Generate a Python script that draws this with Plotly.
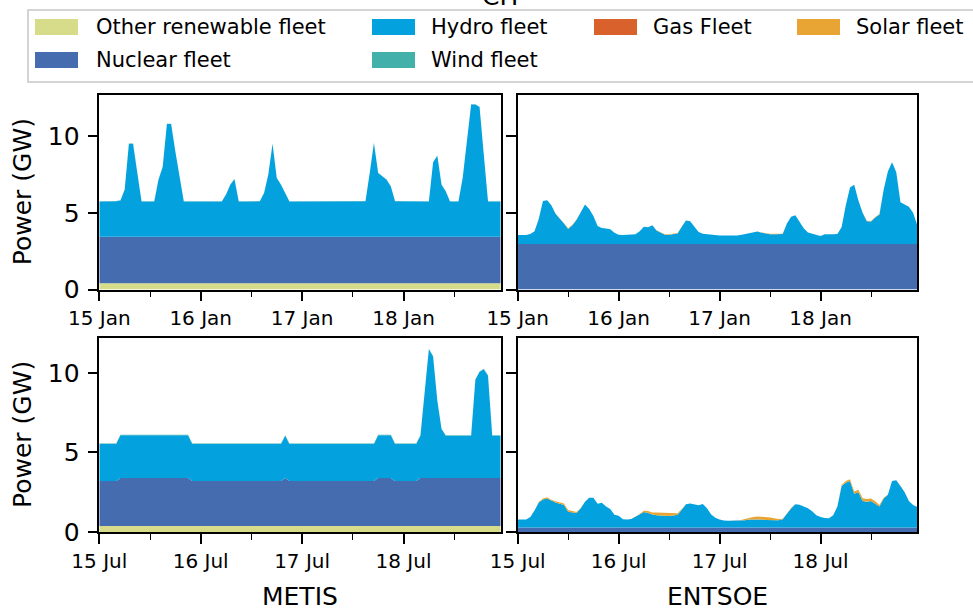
import plotly.graph_objects as go
import pandas as pd

W, H = 973, 613

# ---------------- data (GW, hourly) ----------------
TIME_JAN = pd.date_range("2015-01-15 00:00", periods=96, freq="h")
TIME_JUL = pd.date_range("2015-07-15 00:00", periods=96, freq="h")

TECHS = ["Other renewable fleet", "Nuclear fleet", "Hydro fleet", "Wind fleet", "Gas Fleet", "Solar fleet"]
COLORS = {"Other renewable fleet": "#d6dc8a", "Nuclear fleet": "#466cb0", "Hydro fleet": "#03a2df",
          "Wind fleet": "#43b0a9", "Gas Fleet": "#d9622c", "Solar fleet": "#e8a534"}

ZERO = [0.0, 0.0, 0.0, 0.0, 0.0, 0.0, 0.0, 0.0, 0.0, 0.0,
        0.0, 0.0, 0.0, 0.0, 0.0, 0.0, 0.0, 0.0, 0.0, 0.0,
        0.0, 0.0, 0.0, 0.0, 0.0, 0.0, 0.0, 0.0, 0.0, 0.0,
        0.0, 0.0, 0.0, 0.0, 0.0, 0.0, 0.0, 0.0, 0.0, 0.0,
        0.0, 0.0, 0.0, 0.0, 0.0, 0.0, 0.0, 0.0, 0.0, 0.0,
        0.0, 0.0, 0.0, 0.0, 0.0, 0.0, 0.0, 0.0, 0.0, 0.0,
        0.0, 0.0, 0.0, 0.0, 0.0, 0.0, 0.0, 0.0, 0.0, 0.0,
        0.0, 0.0, 0.0, 0.0, 0.0, 0.0, 0.0, 0.0, 0.0, 0.0,
        0.0, 0.0, 0.0, 0.0, 0.0, 0.0, 0.0, 0.0, 0.0, 0.0,
        0.0, 0.0, 0.0, 0.0, 0.0, 0.0]

# METIS, January
OTHER_METIS_JAN = [0.40, 0.40, 0.40, 0.40, 0.40, 0.40, 0.40, 0.40, 0.40, 0.40,
                   0.40, 0.40, 0.40, 0.40, 0.40, 0.40, 0.40, 0.40, 0.40, 0.40,
                   0.40, 0.40, 0.40, 0.40, 0.40, 0.40, 0.40, 0.40, 0.40, 0.40,
                   0.40, 0.40, 0.40, 0.40, 0.40, 0.40, 0.40, 0.40, 0.40, 0.40,
                   0.40, 0.40, 0.40, 0.40, 0.40, 0.40, 0.40, 0.40, 0.40, 0.40,
                   0.40, 0.40, 0.40, 0.40, 0.40, 0.40, 0.40, 0.40, 0.40, 0.40,
                   0.40, 0.40, 0.40, 0.40, 0.40, 0.40, 0.40, 0.40, 0.40, 0.40,
                   0.40, 0.40, 0.40, 0.40, 0.40, 0.40, 0.40, 0.40, 0.40, 0.40,
                   0.40, 0.40, 0.40, 0.40, 0.40, 0.40, 0.40, 0.40, 0.40, 0.40,
                   0.40, 0.40, 0.40, 0.40, 0.40, 0.40]
NUCLEAR_METIS_JAN = [3.04, 3.04, 3.04, 3.04, 3.04, 3.04, 3.04, 3.04, 3.04, 3.04,
                     3.04, 3.04, 3.04, 3.04, 3.04, 3.04, 3.04, 3.04, 3.04, 3.04,
                     3.04, 3.04, 3.04, 3.04, 3.04, 3.04, 3.04, 3.04, 3.04, 3.04,
                     3.04, 3.04, 3.04, 3.04, 3.04, 3.04, 3.04, 3.04, 3.04, 3.04,
                     3.04, 3.04, 3.04, 3.04, 3.04, 3.04, 3.04, 3.04, 3.04, 3.04,
                     3.04, 3.04, 3.04, 3.04, 3.04, 3.04, 3.04, 3.04, 3.04, 3.04,
                     3.04, 3.04, 3.04, 3.04, 3.04, 3.04, 3.04, 3.04, 3.04, 3.04,
                     3.04, 3.04, 3.04, 3.04, 3.04, 3.04, 3.04, 3.04, 3.04, 3.04,
                     3.04, 3.04, 3.04, 3.04, 3.04, 3.04, 3.04, 3.04, 3.04, 3.04,
                     3.04, 3.04, 3.04, 3.04, 3.04, 3.04]
HYDRO_METIS_JAN = [2.30, 2.30, 2.30, 2.30, 2.31, 2.36, 3.06, 6.06, 6.06, 4.16,
                   2.30, 2.30, 2.30, 2.30, 3.72, 4.56, 7.36, 7.36, 5.56, 3.86,
                   2.30, 2.30, 2.31, 2.32, 2.31, 2.30, 2.30, 2.30, 2.30, 2.30,
                   2.76, 3.39, 3.76, 2.30, 2.30, 2.31, 2.31, 2.31, 2.31, 2.86,
                   4.06, 6.06, 3.83, 3.39, 2.86, 2.30, 2.30, 2.30, 2.30, 2.30,
                   2.30, 2.30, 2.30, 2.30, 2.30, 2.30, 2.30, 2.30, 2.31, 2.32,
                   2.32, 2.32, 2.32, 2.32, 4.16, 6.12, 4.16, 3.96, 3.72, 3.28,
                   2.32, 2.32, 2.32, 2.31, 2.31, 2.30, 2.30, 2.30, 2.30, 4.86,
                   5.29, 3.39, 2.96, 2.30, 2.30, 2.30, 3.83, 6.26, 8.63, 8.63,
                   8.46, 5.36, 2.30, 2.30, 2.30, 2.30]
WIND_METIS_JAN = [0.02, 0.02, 0.02, 0.02, 0.02, 0.02, 0.02, 0.02, 0.02, 0.02,
                  0.02, 0.02, 0.02, 0.02, 0.02, 0.02, 0.02, 0.02, 0.02, 0.02,
                  0.02, 0.02, 0.02, 0.02, 0.02, 0.02, 0.02, 0.02, 0.02, 0.02,
                  0.02, 0.02, 0.02, 0.02, 0.02, 0.02, 0.02, 0.02, 0.02, 0.02,
                  0.02, 0.02, 0.02, 0.02, 0.02, 0.02, 0.02, 0.02, 0.02, 0.02,
                  0.02, 0.02, 0.02, 0.02, 0.02, 0.02, 0.02, 0.02, 0.02, 0.02,
                  0.02, 0.02, 0.02, 0.02, 0.02, 0.02, 0.02, 0.02, 0.02, 0.02,
                  0.02, 0.02, 0.02, 0.02, 0.02, 0.02, 0.02, 0.02, 0.02, 0.02,
                  0.02, 0.02, 0.02, 0.02, 0.02, 0.02, 0.02, 0.02, 0.02, 0.02,
                  0.02, 0.02, 0.02, 0.02, 0.02, 0.02]

# ENTSOE, January
NUCLEAR_ENTSOE_JAN = [2.97, 2.97, 2.97, 2.97, 2.97, 2.97, 2.97, 2.97, 2.97, 2.97,
                      2.97, 2.97, 2.97, 2.97, 2.97, 2.97, 2.97, 2.97, 2.97, 2.97,
                      2.97, 2.97, 2.97, 2.97, 2.97, 2.97, 2.97, 2.97, 2.97, 2.97,
                      2.97, 2.97, 2.97, 2.97, 2.97, 2.97, 2.97, 2.97, 2.97, 2.97,
                      2.97, 2.97, 2.97, 2.97, 2.97, 2.97, 2.97, 2.97, 2.97, 2.97,
                      2.97, 2.97, 2.97, 2.97, 2.97, 2.97, 2.97, 2.97, 2.97, 2.97,
                      2.97, 2.97, 2.97, 2.97, 2.97, 2.97, 2.97, 2.97, 2.97, 2.97,
                      2.97, 2.97, 2.97, 2.97, 2.97, 2.97, 2.97, 2.97, 2.97, 2.97,
                      2.97, 2.97, 2.97, 2.97, 2.97, 2.97, 2.97, 2.97, 2.97, 2.97,
                      2.97, 2.97, 2.97, 2.97, 2.97, 2.97]
HYDRO_ENTSOE_JAN = [0.59, 0.59, 0.59, 0.65, 0.83, 1.63, 2.81, 2.85, 2.53, 1.98,
                    1.68, 1.33, 0.98, 1.23, 1.58, 2.13, 2.58, 2.28, 1.83, 1.18,
                    1.05, 1.01, 0.96, 0.73, 0.60, 0.59, 0.60, 0.60, 0.63, 0.83,
                    1.13, 1.09, 1.23, 0.88, 0.77, 0.61, 0.60, 0.63, 0.69, 1.13,
                    1.53, 1.48, 1.13, 0.78, 0.67, 0.63, 0.59, 0.56, 0.55, 0.56,
                    0.55, 0.55, 0.55, 0.58, 0.63, 0.70, 0.77, 0.81, 0.73, 0.66,
                    0.63, 0.63, 0.63, 0.65, 1.33, 1.78, 1.88, 1.43, 1.03, 0.75,
                    0.66, 0.58, 0.52, 0.63, 0.61, 0.63, 0.65, 1.09, 2.53, 3.68,
                    3.86, 2.83, 2.03, 1.48, 1.46, 1.73, 1.93, 3.53, 4.73, 5.33,
                    4.68, 2.73, 2.58, 2.43, 2.03, 1.23]
SOLAR_ENTSOE_JAN = [0.0, 0.0, 0.0, 0.0, 0.0, 0.0, 0.0, 0.0, 0.0, 0.01,
                    0.02, 0.03, 0.04, 0.03, 0.02, 0.01, 0.0, 0.0, 0.0, 0.0,
                    0.0, 0.0, 0.0, 0.0, 0.0, 0.0, 0.0, 0.0, 0.0, 0.0,
                    0.0, 0.0, 0.0, 0.01, 0.02, 0.03, 0.04, 0.03, 0.02, 0.01,
                    0.0, 0.0, 0.0, 0.0, 0.0, 0.0, 0.0, 0.0, 0.0, 0.0,
                    0.0, 0.0, 0.0, 0.0, 0.0, 0.0, 0.0, 0.01, 0.02, 0.03,
                    0.04, 0.03, 0.02, 0.01, 0.0, 0.0, 0.0, 0.0, 0.0, 0.0,
                    0.0, 0.0, 0.0, 0.0, 0.0, 0.0, 0.0, 0.0, 0.0, 0.0,
                    0.0, 0.01, 0.02, 0.03, 0.04, 0.03, 0.02, 0.01, 0.0, 0.0,
                    0.0, 0.0, 0.0, 0.0, 0.0, 0.0]

# METIS, July
OTHER_METIS_JUL = [0.38, 0.38, 0.38, 0.38, 0.38, 0.38, 0.38, 0.38, 0.38, 0.38,
                   0.38, 0.38, 0.38, 0.38, 0.38, 0.38, 0.38, 0.38, 0.38, 0.38,
                   0.38, 0.38, 0.38, 0.38, 0.38, 0.38, 0.38, 0.38, 0.38, 0.38,
                   0.38, 0.38, 0.38, 0.38, 0.38, 0.38, 0.38, 0.38, 0.38, 0.38,
                   0.38, 0.38, 0.38, 0.38, 0.38, 0.38, 0.38, 0.38, 0.38, 0.38,
                   0.38, 0.38, 0.38, 0.38, 0.38, 0.38, 0.38, 0.38, 0.38, 0.38,
                   0.38, 0.38, 0.38, 0.38, 0.38, 0.38, 0.38, 0.38, 0.38, 0.38,
                   0.38, 0.38, 0.38, 0.38, 0.38, 0.38, 0.38, 0.38, 0.38, 0.38,
                   0.38, 0.38, 0.38, 0.38, 0.38, 0.38, 0.38, 0.38, 0.38, 0.38,
                   0.38, 0.38, 0.38, 0.38, 0.38, 0.38]
NUCLEAR_METIS_JUL = [2.83, 2.83, 2.83, 2.83, 2.83, 3.02, 3.02, 3.02, 3.02, 3.02,
                     3.02, 3.02, 3.02, 3.02, 3.02, 3.02, 3.02, 3.02, 3.02, 3.02,
                     3.02, 3.02, 2.83, 2.83, 2.83, 2.83, 2.83, 2.83, 2.83, 2.83,
                     2.83, 2.83, 2.83, 2.83, 2.83, 2.83, 2.83, 2.83, 2.83, 2.83,
                     2.83, 2.83, 2.83, 2.83, 3.02, 2.83, 2.83, 2.83, 2.83, 2.83,
                     2.83, 2.83, 2.83, 2.83, 2.83, 2.83, 2.83, 2.83, 2.83, 2.83,
                     2.83, 2.83, 2.83, 2.83, 2.83, 2.83, 3.02, 3.02, 3.02, 3.02,
                     2.83, 2.83, 2.83, 2.83, 2.83, 2.83, 3.02, 3.02, 3.02, 3.02,
                     3.02, 3.02, 3.02, 3.02, 3.02, 3.02, 3.02, 3.02, 3.02, 3.02,
                     3.02, 3.02, 3.02, 3.02, 3.02, 3.02]
HYDRO_METIS_JUL = [2.32, 2.32, 2.32, 2.32, 2.32, 2.69, 2.69, 2.69, 2.72, 2.69,
                   2.69, 2.69, 2.69, 2.69, 2.69, 2.69, 2.69, 2.69, 2.69, 2.69,
                   2.69, 2.69, 2.32, 2.32, 2.32, 2.32, 2.32, 2.32, 2.32, 2.32,
                   2.32, 2.32, 2.32, 2.32, 2.32, 2.32, 2.32, 2.32, 2.32, 2.32,
                   2.32, 2.32, 2.32, 2.32, 2.65, 2.32, 2.32, 2.32, 2.32, 2.32,
                   2.32, 2.32, 2.32, 2.32, 2.32, 2.32, 2.32, 2.32, 2.32, 2.32,
                   2.32, 2.32, 2.32, 2.32, 2.32, 2.32, 2.69, 2.69, 2.69, 2.69,
                   2.32, 2.32, 2.32, 2.32, 2.32, 2.32, 2.65, 5.37, 8.10, 7.64,
                   4.85, 3.07, 2.65, 2.65, 2.65, 2.65, 2.65, 2.65, 2.65, 6.17,
                   6.67, 6.84, 6.42, 2.65, 2.65, 2.65]
WIND_METIS_JUL = [0.03, 0.03, 0.03, 0.03, 0.03, 0.03, 0.03, 0.03, 0.03, 0.03,
                  0.03, 0.03, 0.03, 0.03, 0.03, 0.03, 0.03, 0.03, 0.03, 0.03,
                  0.03, 0.03, 0.03, 0.03, 0.03, 0.03, 0.03, 0.03, 0.03, 0.03,
                  0.03, 0.03, 0.03, 0.03, 0.03, 0.03, 0.03, 0.03, 0.03, 0.03,
                  0.03, 0.03, 0.03, 0.03, 0.03, 0.03, 0.03, 0.03, 0.03, 0.03,
                  0.03, 0.03, 0.03, 0.03, 0.03, 0.03, 0.03, 0.03, 0.03, 0.03,
                  0.03, 0.03, 0.03, 0.03, 0.03, 0.03, 0.03, 0.03, 0.03, 0.03,
                  0.03, 0.03, 0.03, 0.03, 0.03, 0.03, 0.03, 0.03, 0.03, 0.03,
                  0.03, 0.03, 0.03, 0.03, 0.03, 0.03, 0.03, 0.03, 0.03, 0.03,
                  0.03, 0.03, 0.03, 0.03, 0.03, 0.03]

# ENTSOE, July
NUCLEAR_ENTSOE_JUL = [0.28, 0.28, 0.28, 0.28, 0.28, 0.28, 0.28, 0.28, 0.28, 0.28,
                      0.28, 0.28, 0.28, 0.28, 0.28, 0.28, 0.28, 0.28, 0.28, 0.28,
                      0.28, 0.28, 0.28, 0.28, 0.28, 0.28, 0.28, 0.28, 0.28, 0.28,
                      0.28, 0.28, 0.28, 0.28, 0.28, 0.28, 0.28, 0.28, 0.28, 0.28,
                      0.28, 0.28, 0.28, 0.28, 0.28, 0.28, 0.28, 0.28, 0.28, 0.28,
                      0.28, 0.28, 0.28, 0.28, 0.28, 0.28, 0.28, 0.28, 0.28, 0.28,
                      0.28, 0.28, 0.28, 0.28, 0.28, 0.28, 0.28, 0.28, 0.28, 0.28,
                      0.28, 0.28, 0.28, 0.28, 0.28, 0.28, 0.28, 0.28, 0.28, 0.28,
                      0.28, 0.28, 0.28, 0.28, 0.28, 0.28, 0.28, 0.28, 0.28, 0.28,
                      0.28, 0.28, 0.28, 0.28, 0.28, 0.28]
HYDRO_ENTSOE_JUL = [0.50, 0.50, 0.51, 0.67, 1.07, 1.57, 1.77, 1.82, 1.67, 1.57,
                    1.50, 1.42, 1.00, 0.96, 0.92, 1.22, 1.62, 1.88, 1.87, 1.50,
                    1.56, 1.32, 1.17, 0.80, 0.74, 0.52, 0.50, 0.54, 0.67, 0.82,
                    0.97, 0.92, 0.82, 0.78, 0.75, 0.72, 0.72, 0.75, 0.80, 1.12,
                    1.47, 1.52, 1.44, 1.40, 1.48, 1.22, 0.82, 0.62, 0.50, 0.44,
                    0.43, 0.43, 0.43, 0.42, 0.46, 0.50, 0.51, 0.52, 0.50, 0.47,
                    0.46, 0.46, 0.46, 0.52, 0.87, 1.22, 1.47, 1.44, 1.32, 1.22,
                    1.02, 0.77, 0.67, 0.60, 0.58, 0.77, 1.32, 2.62, 2.82, 2.92,
                    2.12, 2.22, 1.67, 1.62, 1.67, 1.52, 1.32, 1.82, 2.07, 2.92,
                    2.97, 2.62, 2.22, 1.67, 1.42, 1.29]
SOLAR_ENTSOE_JUL = [0.0, 0.0, 0.0, 0.0, 0.0, 0.03, 0.06, 0.08, 0.08, 0.09,
                    0.10, 0.10, 0.10, 0.08, 0.05, 0.02, 0.0, 0.0, 0.0, 0.0,
                    0.0, 0.0, 0.0, 0.0, 0.0, 0.0, 0.0, 0.0, 0.0, 0.04,
                    0.08, 0.12, 0.13, 0.16, 0.18, 0.19, 0.18, 0.15, 0.10, 0.04,
                    0.0, 0.0, 0.0, 0.0, 0.0, 0.0, 0.0, 0.0, 0.0, 0.0,
                    0.0, 0.0, 0.0, 0.04, 0.08, 0.12, 0.15, 0.18, 0.19, 0.19,
                    0.17, 0.13, 0.08, 0.04, 0.0, 0.0, 0.0, 0.0, 0.0, 0.0,
                    0.0, 0.0, 0.0, 0.0, 0.0, 0.0, 0.0, 0.05, 0.10, 0.12,
                    0.15, 0.16, 0.17, 0.18, 0.16, 0.14, 0.10, 0.05, 0.0, 0.0,
                    0.0, 0.0, 0.0, 0.0, 0.0, 0.0]

PANELS = [
    ("", TIME_JAN, {"Other renewable fleet": OTHER_METIS_JAN, "Nuclear fleet": NUCLEAR_METIS_JAN,
                    "Hydro fleet": HYDRO_METIS_JAN, "Wind fleet": WIND_METIS_JAN,
                    "Gas Fleet": ZERO, "Solar fleet": ZERO}),
    ("2", TIME_JAN, {"Other renewable fleet": ZERO, "Nuclear fleet": NUCLEAR_ENTSOE_JAN,
                     "Hydro fleet": HYDRO_ENTSOE_JAN, "Wind fleet": ZERO,
                     "Gas Fleet": ZERO, "Solar fleet": SOLAR_ENTSOE_JAN}),
    ("3", TIME_JUL, {"Other renewable fleet": OTHER_METIS_JUL, "Nuclear fleet": NUCLEAR_METIS_JUL,
                     "Hydro fleet": HYDRO_METIS_JUL, "Wind fleet": WIND_METIS_JUL,
                     "Gas Fleet": ZERO, "Solar fleet": ZERO}),
    ("4", TIME_JUL, {"Other renewable fleet": ZERO, "Nuclear fleet": NUCLEAR_ENTSOE_JUL,
                     "Hydro fleet": HYDRO_ENTSOE_JUL, "Wind fleet": ZERO,
                     "Gas Fleet": ZERO, "Solar fleet": SOLAR_ENTSOE_JUL}),
]

# legend layout: which legend box (column) and row each tech is in
LEGEND_OF = {"Other renewable fleet": ("legend", 0), "Nuclear fleet": ("legend", 1),
             "Hydro fleet": ("legend2", 0), "Wind fleet": ("legend2", 1),
             "Gas Fleet": ("legend3", 0), "Solar fleet": ("legend4", 0)}

FONT = "DejaVu Sans"

fig = go.Figure()
for i, (sfx, t, series) in enumerate(PANELS):
    for tech in TECHS:
        fig.add_trace(go.Scatter(
            x=t, y=series[tech], name=tech, mode="lines",
            stackgroup="s" + str(i), line=dict(width=0, color=COLORS[tech]),
            fillcolor=COLORS[tech], xaxis="x" + sfx, yaxis="y" + sfx,
            legendgroup=tech, showlegend=False, hoverinfo="skip"))

# legend entries (text) - the coloured swatches are drawn as rectangles below
for tech in TECHS:
    fig.add_trace(go.Scatter(
        x=[None], y=[None], name=tech, mode="lines",
        line=dict(width=0, color="rgba(0,0,0,0)"),
        legend=LEGEND_OF[tech][0], legendgroup=tech, showlegend=True, hoverinfo="skip"))

def px_x(p):
    return p / W

def px_y(p):
    return 1 - p / H

L0, L1 = 99.3, 500.7
R0, R1 = 517.7, 917.3
T0, T1 = 95.0, 289.5
B0, B1 = 338.0, 532.0

xcommon = dict(showline=True, mirror=True, linecolor="black", linewidth=1.5,
               ticks="outside", ticklen=10, tickwidth=1.5, tickcolor="black",
               showgrid=False, zeroline=False, dtick=86400000,
               tickfont=dict(family=FONT, size=20, color="black"),
               minor=dict(ticks="outside", ticklen=6, tickwidth=1.2, tickcolor="black",
                          dtick=43200000, showgrid=False))
ycommon = dict(showline=True, mirror=True, linecolor="black", linewidth=1.5,
               ticks="outside", ticklen=10, tickwidth=1.5, tickcolor="black",
               showgrid=False, zeroline=False, tickvals=[0, 5, 10], ticklabelstandoff=3,
               tickfont=dict(family=FONT, size=25, color="black"))

jan_range = [TIME_JAN[0], TIME_JAN[-1]]
jul_range = [TIME_JUL[0], TIME_JUL[-1]]

fig.update_layout(
    xaxis=dict(xcommon, domain=[px_x(L0), px_x(L1)], anchor="y", range=jan_range,
               tick0=TIME_JAN[0], tickformat="%d %b"),
    xaxis2=dict(xcommon, domain=[px_x(R0), px_x(R1)], anchor="y2", range=jan_range,
                tick0=TIME_JAN[0], tickformat="%d %b"),
    xaxis3=dict(xcommon, domain=[px_x(L0), px_x(L1)], anchor="y3", range=jul_range,
                tick0=TIME_JUL[0], tickformat="%d %b"),
    xaxis4=dict(xcommon, domain=[px_x(R0), px_x(R1)], anchor="y4", range=jul_range,
                tick0=TIME_JUL[0], tickformat="%d %b"),
    yaxis=dict(ycommon, domain=[px_y(T1), px_y(T0)], anchor="x", range=[0, 12.69]),
    yaxis2=dict(ycommon, domain=[px_y(T1), px_y(T0)], anchor="x2", range=[0, 12.69],
                showticklabels=False),
    yaxis3=dict(ycommon, domain=[px_y(B1), px_y(B0)], anchor="x3", range=[0, 12.2]),
    yaxis4=dict(ycommon, domain=[px_y(B1), px_y(B0)], anchor="x4", range=[0, 12.2],
                showticklabels=False),
)

# legend columns: swatch left edge px and text start px
LEG_SWATCH_X = {"legend": 35, "legend2": 372, "legend3": 594, "legend4": 797}
LEG_TEXT_X = {"legend": 97, "legend2": 432, "legend3": 654, "legend4": 857}
SW_W, SW_H = 43, 16
ROW_CY = [27, 60]

legend_common = dict(orientation="v", bgcolor="rgba(0,0,0,0)", borderwidth=0,
                     font=dict(family=FONT, size=21, color="black"),
                     xanchor="left", yanchor="top", y=px_y(5.5), itemwidth=30,
                     traceorder="grouped", tracegroupgap=3,
                     itemclick=False, itemdoubleclick=False)
fig.update_layout(**{name: dict(legend_common, x=px_x(tx - 41))
                     for name, tx in LEG_TEXT_X.items()})

shapes = [dict(type="rect", xref="paper", yref="paper",
               x0=px_x(28), x1=px_x(990), y0=px_y(82), y1=px_y(10),
               line=dict(color="#d4d4d4", width=2), fillcolor="rgba(0,0,0,0)", layer="below")]
for tech in TECHS:
    lg, row = LEGEND_OF[tech]
    sx = LEG_SWATCH_X[lg]
    cy = ROW_CY[row]
    shapes.append(dict(type="rect", xref="paper", yref="paper",
                       x0=px_x(sx), x1=px_x(sx + SW_W),
                       y0=px_y(cy + SW_H / 2), y1=px_y(cy - SW_H / 2),
                       line=dict(width=0), fillcolor=COLORS[tech]))
fig.update_layout(shapes=shapes)

ann = [
    dict(text="CH", x=px_x(500), y=px_y(13), xanchor="center", yanchor="bottom",
         font=dict(family=FONT, size=25, color="black")),
    dict(text="Power (GW)", x=px_x(22), y=px_y((T0 + T1) / 2), textangle=-90,
         xanchor="center", yanchor="middle", font=dict(family=FONT, size=25, color="black")),
    dict(text="Power (GW)", x=px_x(22), y=px_y((B0 + B1) / 2), textangle=-90,
         xanchor="center", yanchor="middle", font=dict(family=FONT, size=25, color="black")),
    dict(text="METIS", x=px_x((L0 + L1) / 2), y=px_y(596), xanchor="center", yanchor="middle",
         font=dict(family=FONT, size=25, color="black")),
    dict(text="ENTSOE", x=px_x((R0 + R1) / 2), y=px_y(596), xanchor="center", yanchor="middle",
         font=dict(family=FONT, size=25, color="black")),
]
for a in ann:
    a.update(xref="paper", yref="paper", showarrow=False)
fig.update_layout(annotations=ann)

fig.update_layout(width=W, height=H, margin=dict(l=0, r=0, t=0, b=0, autoexpand=False),
                  paper_bgcolor="white", plot_bgcolor="white",
                  font=dict(family=FONT, color="black"))

fig.write_html("out.html", config={"displayModeBar": False},
               post_script="document.body.style.margin='0';document.body.style.overflow='hidden';")
